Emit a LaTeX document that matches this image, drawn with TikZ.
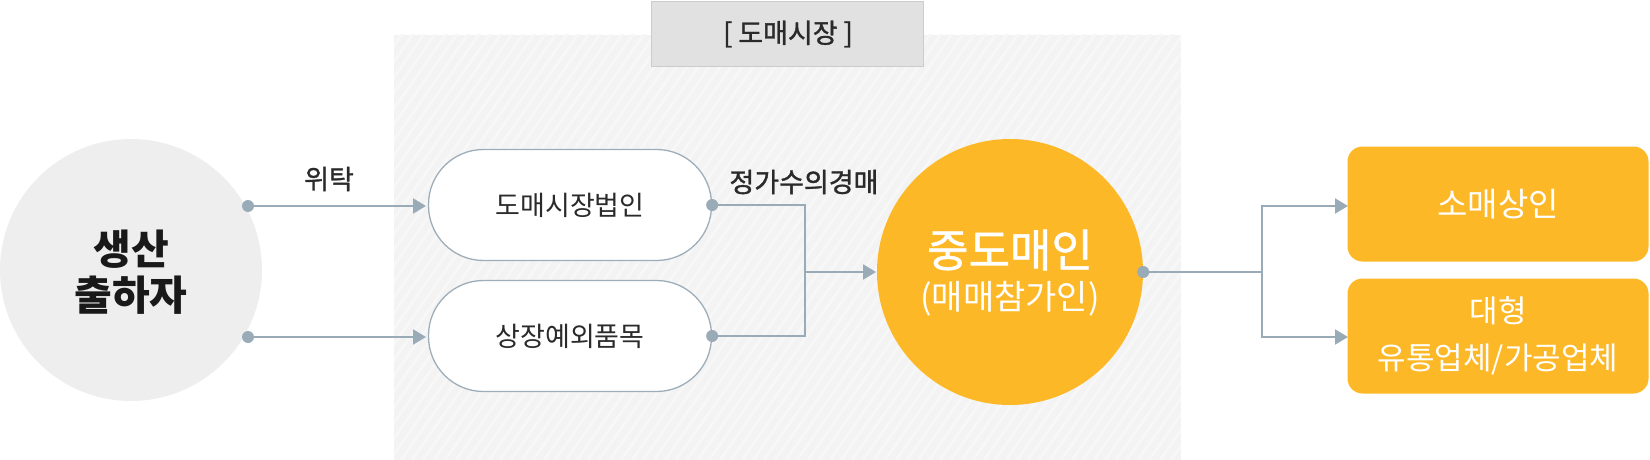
\documentclass[tikz,border=0pt]{standalone}
\usepackage{fontspec}
\setmainfont{Noto Sans CJK KR}
\newfontfamily\krmed[FakeBold=1.2]{Noto Sans CJK KR}
\usetikzlibrary{arrows.meta}
\definecolor{conn}{HTML}{9AABB8}
\definecolor{pillb}{HTML}{9DAEBA}
\definecolor{orng}{HTML}{FDB827}
\definecolor{lgray}{HTML}{EEEEEE}
\definecolor{area}{HTML}{F3F3F3}
\definecolor{stripe}{HTML}{F7F7F7}
\definecolor{titlebg}{HTML}{E1E1E1}
\definecolor{titlebd}{HTML}{CCCCCC}
\definecolor{txt}{HTML}{2A2A2A}
\tikzset{
  pill/.style={draw=pillb, line width=1.3pt, fill=white, minimum width=283pt, minimum height=111pt, rounded corners=55pt, text=txt, font=\fontsize{27}{30}\selectfont},
  obox/.style={fill=orng, minimum width=301pt, minimum height=115pt, rounded corners=15pt, text=white, align=center, font=\fontsize{31}{47}\selectfont},
  conline/.style={draw=conn, line width=2pt},
  arr/.style={conline, -{Triangle[length=13pt,width=15pt]}},
  dot/.style={fill=conn},
  lbl/.style={text=txt, font=\fontsize{27}{30}\krmed}
}
\begin{document}
\begin{tikzpicture}[x=1pt,y=-1pt]
\useasboundingbox (0,0) rectangle (1650,460);
% market area
\fill[area] (394,35) rectangle (1181,460);
\begin{scope}
\clip (394,35) rectangle (1181,460);
\foreach \i in {-400,-389,...,800} {
  \draw[stripe, line width=3pt] (394+\i,460) -- (394+\i+322,0);
}
\end{scope}
\node[draw=titlebd, fill=titlebg, line width=1pt, minimum width=272pt, minimum height=65pt, inner sep=0pt] (title) at (787,34) {};
\node[text=txt, font=\fontsize{27}{30}\krmed] (titletext) at (788,34) {[ 도매시장 ]};
% producer
\node[circle, fill=lgray, minimum size=262pt, inner sep=0pt] (prod) at (131,270) {};
\node[text=black!90, align=center, font=\fontsize{41}{46}\bfseries\selectfont] (prodtext) at (131,272) {생산\\출하자};
% pills
\node[pill] (p1) at (570,205) {도매시장법인};
\node[pill] (p2) at (570,336) {상장예외품목};
% middle circle
\node[circle, fill=orng, minimum size=266pt, inner sep=0pt] (mid) at (1010,272) {};
\node[text=white, font=\fontsize{45}{48}\krmed] (midtext1) at (1010,250) {중도매인};
\node[text=white, font=\fontsize{34}{38}\selectfont] (midtext2) at (1010,299) {(매매참가인)};
% right boxes
\node[obox] (r1) at (1498,204) {\fontsize{33}{36}\selectfont 소매상인};
\node[obox] (r2) at (1498,336) {대형\\유통업체/가공업체};
% connectors
\coordinate (s1) at (248,206);
\coordinate (s2) at (248,337);
\coordinate (t1) at (426,206);
\coordinate (t2) at (426,337);
\draw[arr] (s1) -- (t1);
\draw[arr] (s2) -- (t2);
\node[lbl] (wt) at (329,179) {위탁};
\coordinate (j) at (805,272);
\coordinate (jt) at (876,272);
\draw[conline] (p1.east) -| (j);
\draw[conline] (p2.east) -| (j);
\draw[arr] (j) -- (jt);
\node[lbl] (jg) at (804,182) {정가수의경매};
\coordinate (k) at (1262,272);
\draw[conline] (mid.east) -- (k);
\coordinate (u1) at (1348,206);
\coordinate (u2) at (1348,337);
\draw[arr] (k) |- (u1);
\draw[arr] (k) |- (u2);
% dots
\fill[dot] (s1) circle (6pt);
\fill[dot] (s2) circle (6pt);
\fill[dot] (p1.east) circle (6pt);
\fill[dot] (p2.east) circle (6pt);
\fill[dot] (mid.east) circle (6pt);
\end{tikzpicture}
\end{document}
